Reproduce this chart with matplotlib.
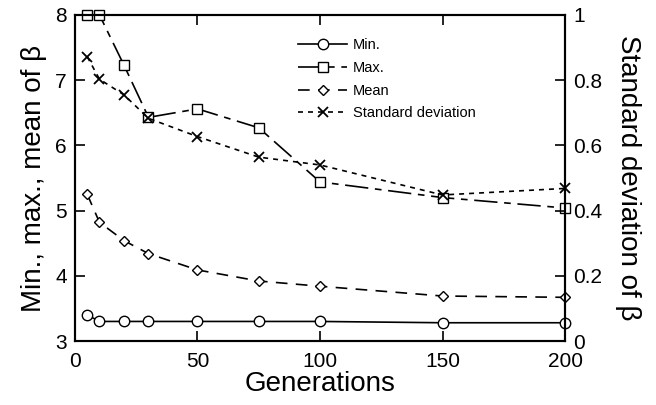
import matplotlib
matplotlib.use("Agg")
import matplotlib.pyplot as plt

plt.rcParams['font.family'] = ['Liberation Sans', 'DejaVu Sans']

generations = [5, 10, 20, 30, 50, 75, 100, 150, 200]
beta_min = [3.40, 3.30, 3.30, 3.30, 3.30, 3.30, 3.30, 3.28, 3.28]
beta_max = [8.00, 8.00, 7.23, 6.43, 6.56, 6.27, 5.44, 5.20, 5.04]
beta_mean = [5.25, 4.82, 4.54, 4.34, 4.09, 3.92, 3.84, 3.69, 3.67]
beta_std = [0.872, 0.803, 0.755, 0.683, 0.627, 0.564, 0.540, 0.448, 0.468]

x_ticks = [0, 50, 100, 150, 200]
left_ticks = [3, 4, 5, 6, 7, 8]
right_ticks = [0, 0.2, 0.4, 0.6, 0.8, 1]
right_labels = ['0', '0.2', '0.4', '0.6', '0.8', '1']

fig = plt.figure(figsize=(6.56, 4.05), dpi=100)
ax = fig.add_axes([0.1143, 0.158, 0.747, 0.805])
ax2 = ax.twinx()

mk = dict(markerfacecolor='white', markeredgecolor='black', markeredgewidth=1.0, clip_on=False)
h1, = ax.plot(generations, beta_min, color='black', lw=1.2, marker='o', markersize=7.5, label='Min.', **mk)
h2, = ax.plot(generations, beta_max, color='black', lw=1.2, marker='s', markersize=7.5,
              linestyle=(0, (14, 4, 4, 4)), label='Max.', **mk)
h3, = ax.plot(generations, beta_mean, color='black', lw=1.2, marker='D', markersize=5,
              linestyle=(0, (7, 5)), label='Mean', **mk)
h4, = ax2.plot(generations, beta_std, color='black', lw=1.2, marker='x', markersize=7,
               markeredgewidth=1.3, linestyle=(0, (3, 3)), label='Standard deviation', clip_on=False)

ax.set_xlim(0, 200)
ax.set_ylim(3, 8)
ax2.set_ylim(0, 1)
ax.set_xticks(x_ticks)
ax.set_yticks(left_ticks)
ax2.set_yticks(right_ticks)
ax2.set_yticklabels(right_labels)

ax.tick_params(axis='x', direction='in', length=7, width=1.2, top=True, labelsize=15, pad=8)
ax.tick_params(axis='y', direction='in', length=7, width=1.2, labelsize=15, pad=6)
ax2.tick_params(axis='y', direction='in', length=7, width=1.2, labelsize=15, pad=6)
for a in (ax, ax2):
    for s in a.spines.values():
        s.set_linewidth(1.5)

ax.set_xlabel('Generations', fontsize=20, labelpad=0)
ax.set_ylabel('Min., max., mean of β', fontsize=20, labelpad=6)
ax2.set_ylabel('Standard deviation of β', fontsize=20, rotation=270, labelpad=28)

leg = fig.legend(handles=[h1, h2, h3, h4], loc='upper left', bbox_to_anchor=(0.445, 0.92),
                 frameon=False, fontsize=10.5, handlelength=3.4, labelspacing=0.6,
                 handletextpad=0.4, borderaxespad=0)

fig.savefig('out.png', dpi=100)
